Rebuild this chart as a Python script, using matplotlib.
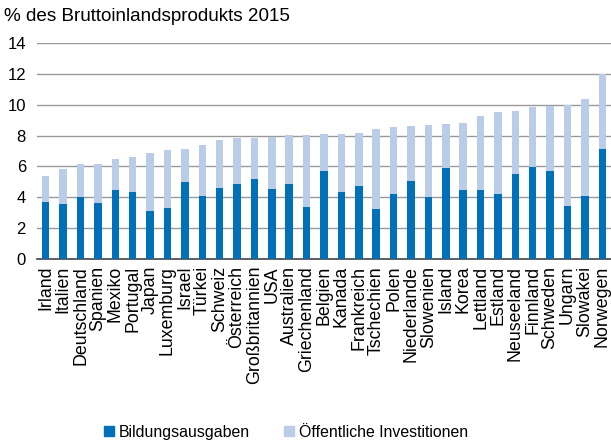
import matplotlib.pyplot as plt
from matplotlib.patches import Patch

plt.rcParams['font.family'] = ['Liberation Sans', 'DejaVu Sans']

countries = ["Irland", "Italien", "Deutschland", "Spanien", "Mexiko", "Portugal", "Japan",
             "Luxemburg", "Israel", "Türkei", "Schweiz", "Österreich", "Großbritannien", "USA",
             "Australien", "Griechenland", "Belgien", "Kanada", "Frankreich", "Tschechien",
             "Polen", "Niederlande", "Slowenien", "Island", "Korea", "Lettland", "Estland",
             "Neuseeland", "Finnland", "Schweden", "Ungarn", "Slowakei", "Norwegen"]

# Bildungsausgaben (% des BIP)
education = [3.68, 3.57, 4.00, 3.64, 4.48, 4.37, 3.10, 3.31, 5.02, 4.07, 4.59, 4.85, 5.17, 4.52,
             4.85, 3.38, 5.69, 4.35, 4.74, 3.23, 4.18, 5.03, 4.03, 5.87, 4.50, 4.50, 4.18,
             5.52, 5.97, 5.71, 3.44, 4.09, 7.12]
# Gesamthoehe (Bildung + oeffentliche Investitionen)
total = [5.37, 5.82, 6.15, 6.15, 6.47, 6.62, 6.84, 7.08, 7.12, 7.38, 7.68, 7.81, 7.86, 7.90,
         8.01, 8.01, 8.07, 8.10, 8.16, 8.40, 8.57, 8.59, 8.70, 8.74, 8.81, 9.26, 9.52,
         9.59, 9.85, 9.89, 9.96, 10.37, 12.01]
investment = [t - e for t, e in zip(total, education)]

dark = "#0070b8"
light = "#b9cde9"

fig = plt.figure(figsize=(6.11, 4.42), dpi=100)
ax = fig.add_axes([0.0606, 0.414, 0.9394, 0.489])

x = range(len(countries))
ax.bar(x, education, width=0.43, color=dark, zorder=3)
ax.bar(x, investment, bottom=education, width=0.43, color=light, zorder=3)

ax.set_ylim(0, 14)
ax.set_yticks(range(0, 15, 2))
ax.set_xlim(-0.5, 32.5)
ax.set_xticks(list(x))
ax.set_xticklabels(countries, rotation=90, fontsize=12.8)
ax.tick_params(axis='y', labelsize=12, length=0, pad=8)
ax.tick_params(axis='x', length=0, pad=5)
ax.grid(axis='y', color='#999999', linewidth=1, zorder=0)
for s in ['left', 'right', 'top']:
    ax.spines[s].set_visible(False)
ax.spines['bottom'].set_color('#444444')
ax.spines['bottom'].set_linewidth(1.2)

fig.text(0.007, 0.963, "% des Bruttoinlandsprodukts 2015", fontsize=13.6, va='center', ha='left')

handles = [Patch(color=dark, label="Bildungsausgaben"),
           Patch(color=light, label="Öffentliche Investitionen")]
fig.legend(handles=handles, loc='center', bbox_to_anchor=(0.468, 0.022), ncol=2,
           frameon=False, fontsize=11.4, handlelength=0.6, handleheight=0.6,
           handletextpad=0.3, columnspacing=2.2)

fig.savefig("out.png", dpi=100)
